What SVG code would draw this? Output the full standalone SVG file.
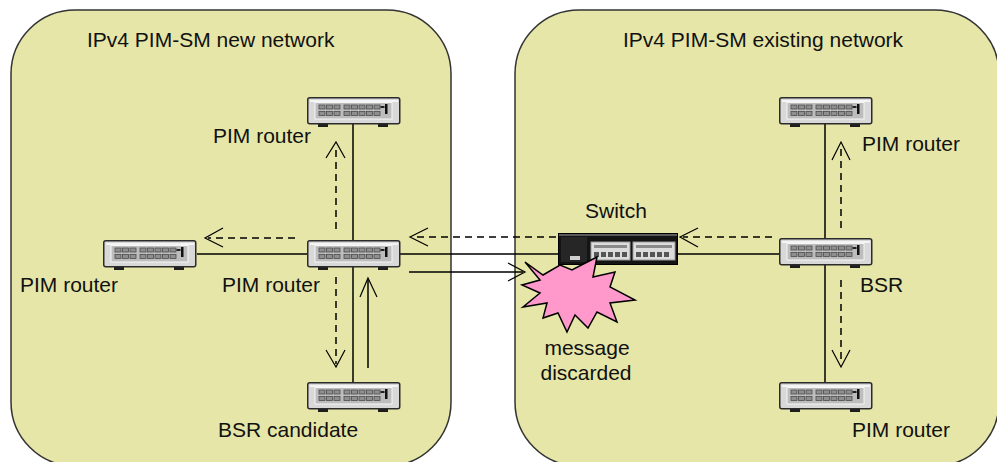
<svg xmlns="http://www.w3.org/2000/svg" xmlns:xlink="http://www.w3.org/1999/xlink" width="997" height="462" viewBox="0 0 997 462">
  <style>
    .panel { fill: #e6e6a8; stroke: #333333; stroke-width: 1.5; }
    .label { font-family: "Liberation Sans", Arial, sans-serif; font-size: 21px; fill: #111111; }
    .solid { stroke: #000000; stroke-width: 1.5; fill: none; }
    .dash { stroke: #000000; stroke-width: 1.5; fill: none; stroke-dasharray: 7 5; }
    .head { stroke: #000000; stroke-width: 1.2; fill: none; }
    .port { fill: #8f8f8f; stroke: #4d4d4d; stroke-width: 0.8; }
    .sport { fill: #555555; }
  </style>
  <defs>
    <symbol id="router-icon" viewBox="0 0 94 31" width="94" height="31">
      <rect x="11" y="26" width="10" height="4" fill="#1e1e1e"/>
      <rect x="71" y="26" width="10" height="4" fill="#1e1e1e"/>
      <rect x="0.75" y="0.75" width="92" height="26" rx="2" fill="#d8d8d8" stroke="#2b2b2b" stroke-width="1.5"/>
      <rect x="3" y="3" width="88" height="2" fill="#f4f4f4"/>
      <rect x="8" y="5.5" width="77" height="16.5" fill="#bdbdbd" stroke="#f6f6f6" stroke-width="1"/>
      <rect x="12" y="8" width="6" height="4" class="port"/>
      <rect x="19.5" y="8" width="6" height="4" class="port"/>
      <rect x="27" y="8" width="6" height="4" class="port"/>
      <rect x="37" y="8" width="6" height="4" class="port"/>
      <rect x="44.5" y="8" width="6" height="4" class="port"/>
      <rect x="52" y="8" width="6" height="4" class="port"/>
      <rect x="59.5" y="8" width="6" height="4" class="port"/>
      <rect x="67" y="8" width="6" height="4" class="port"/>
      <rect x="12" y="14.5" width="6" height="4" class="port"/>
      <rect x="19.5" y="14.5" width="6" height="4" class="port"/>
      <rect x="27" y="14.5" width="6" height="4" class="port"/>
      <rect x="37" y="14.5" width="6" height="4" class="port"/>
      <rect x="44.5" y="14.5" width="6" height="4" class="port"/>
      <rect x="52" y="14.5" width="6" height="4" class="port"/>
      <rect x="59.5" y="14.5" width="6" height="4" class="port"/>
      <rect x="67" y="14.5" width="6" height="4" class="port"/>
      <rect x="73.5" y="9" width="4" height="2" fill="#222222"/>
      <rect x="78" y="7" width="2.5" height="10" fill="#111111"/>
    </symbol>
    <symbol id="switch-icon" viewBox="0 0 120 32" width="120" height="32">
      <rect x="0.5" y="0.5" width="119" height="31" fill="#141414" stroke="#000000"/>
      <rect x="1" y="1" width="118" height="2" fill="#5a5a5a"/>
      <rect x="3" y="4" width="26" height="25" fill="#262626"/>
      <rect x="12" y="23" width="10" height="4" fill="#cfcfcf"/>
      <rect x="33" y="9" width="39" height="18" fill="#dcdcdc" stroke="#9a9a9a"/>
      <rect x="75" y="9" width="42" height="18" fill="#dcdcdc" stroke="#9a9a9a"/>
      <rect x="36" y="12" width="33" height="3" fill="#8a8a8a"/>
      <rect x="36" y="19" width="5" height="5" class="sport"/>
      <rect x="43" y="19" width="5" height="5" class="sport"/>
      <rect x="50" y="19" width="5" height="5" class="sport"/>
      <rect x="57" y="19" width="5" height="5" class="sport"/>
      <rect x="64" y="19" width="5" height="5" class="sport"/>
      <rect x="78" y="12" width="36" height="3" fill="#8a8a8a"/>
      <rect x="78" y="19" width="5" height="5" class="sport"/>
      <rect x="85" y="19" width="5" height="5" class="sport"/>
      <rect x="92" y="19" width="5" height="5" class="sport"/>
      <rect x="99" y="19" width="5" height="5" class="sport"/>
      <rect x="106" y="19" width="5" height="5" class="sport"/>
    </symbol>
  </defs>

  <g id="panel-new">
    <rect class="panel" x="11" y="10" width="440" height="456" rx="64" ry="64"/>
    <text class="label" x="87" y="47">IPv4 PIM-SM new network</text>
  </g>
  <g id="panel-existing">
    <rect class="panel" x="515" y="10" width="484" height="456" rx="64" ry="64"/>
    <text class="label" x="623" y="47">IPv4 PIM-SM existing network</text>
  </g>

  <g id="connectors">
    <line class="solid" x1="353" y1="124" x2="353" y2="240"/>
    <line class="solid" x1="353" y1="266" x2="353" y2="382"/>
    <line class="solid" x1="197" y1="254" x2="307" y2="254"/>
    <line class="solid" x1="400" y1="254" x2="558" y2="254"/>
    <line class="solid" x1="678" y1="254" x2="779" y2="254"/>
    <line class="solid" x1="825" y1="124" x2="825" y2="238"/>
    <line class="solid" x1="825" y1="264" x2="825" y2="382"/>
    <line class="dash" x1="336" y1="229" x2="336" y2="146"/>
    <polyline class="head" points="326,158 336,142 345,158"/>
    <line class="dash" x1="295" y1="238" x2="208" y2="238"/>
    <polyline class="head" points="223,228 205,238 223,247"/>
    <line class="dash" x1="336" y1="277" x2="336" y2="364"/>
    <polyline class="head" points="326,350 336,367 345,350"/>
    <line class="dash" x1="556" y1="237" x2="413" y2="237"/>
    <polyline class="head" points="428,228 410,237 428,246"/>
    <line class="dash" x1="772" y1="237" x2="683" y2="237"/>
    <polyline class="head" points="698,228 680,237 698,247"/>
    <line class="dash" x1="841" y1="228" x2="841" y2="146"/>
    <polyline class="head" points="832,160 841,142 850,160"/>
    <line class="dash" x1="841" y1="280" x2="841" y2="364"/>
    <polyline class="head" points="832,350 841,367 850,350"/>
    <line class="solid" x1="368" y1="368" x2="368" y2="280"/>
    <polyline class="head" points="360,297 368,278 377,297"/>
    <line class="solid" x1="409" y1="272" x2="523" y2="272"/>
    <polyline class="head" points="508,263 525,272 508,281"/>
  </g>

  <g id="router-new-top">
    <use xlink:href="#router-icon" href="#router-icon" x="307" y="97"/>
    <text class="label" x="213" y="143">PIM router</text>
  </g>
  <g id="router-new-left">
    <use xlink:href="#router-icon" href="#router-icon" x="103" y="240"/>
    <text class="label" x="20" y="292">PIM router</text>
  </g>
  <g id="router-new-center">
    <use xlink:href="#router-icon" href="#router-icon" x="307" y="240"/>
    <text class="label" x="222" y="292">PIM router</text>
  </g>
  <g id="bsr-candidate">
    <use xlink:href="#router-icon" href="#router-icon" x="307" y="382"/>
    <text class="label" x="218" y="437">BSR candidate</text>
  </g>
  <g id="switch-node">
    <use xlink:href="#switch-icon" href="#switch-icon" x="558" y="233"/>
    <text class="label" x="585" y="218">Switch</text>
  </g>
  <g id="router-existing-top">
    <use xlink:href="#router-icon" href="#router-icon" x="779" y="97"/>
    <text class="label" x="862" y="151">PIM router</text>
  </g>
  <g id="bsr">
    <use xlink:href="#router-icon" href="#router-icon" x="779" y="238"/>
    <text class="label" x="860" y="292">BSR</text>
  </g>
  <g id="router-existing-bottom">
    <use xlink:href="#router-icon" href="#router-icon" x="779" y="382"/>
    <text class="label" x="852" y="437">PIM router</text>
  </g>

  <g id="discard">
    <polygon points="525,262 543,275 560,265 572,270 597,257 593,277 615,272 610,287 635,300 610,303 617,322 597,312 588,328 575,315 567,332 558,313 543,318 547,303 523,307 540,293 522,285 540,280" fill="#ff99cc" stroke="#000000" stroke-width="1.5" stroke-linejoin="miter"/>
    <text class="label" x="587" y="355" text-anchor="middle">message</text>
    <text class="label" x="586" y="380" text-anchor="middle">discarded</text>
  </g>
</svg>
